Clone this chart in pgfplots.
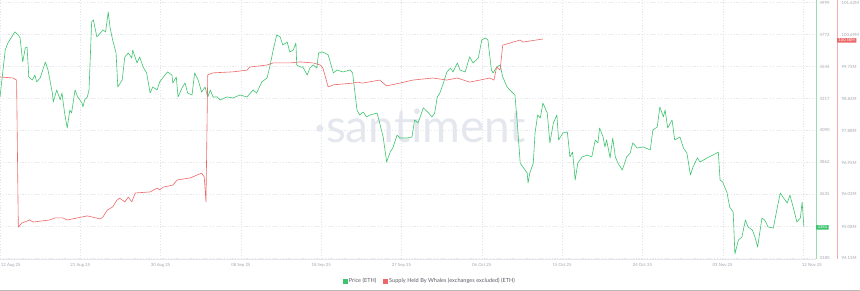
\documentclass[border=0pt]{standalone}
\usepackage{pgfplots}
\pgfplotsset{compat=1.18}
\usepackage{fontspec}
\setmainfont{Lato}
\definecolor{pricegreen}{RGB}{62,196,110}
\definecolor{whalered}{RGB}{236,104,104}
\definecolor{ticktext}{RGB}{160,164,172}
\definecolor{gridc}{RGB}{228,230,235}
\definecolor{wm}{RGB}{228,231,238}
\definecolor{legtext}{RGB}{90,94,102}
\begin{document}
\begin{tikzpicture}[x=1pt,y=1pt]
\path[use as bounding box] (0,0) rectangle (860,-291);
\begin{axis}[
  at={(0,0)}, anchor=north west,
  scale only axis, width=816pt, height=259pt,
  xmin=0, xmax=93.49, ymin=3175, ymax=5018,
  clip=false,
  axis x line*=bottom, axis y line*=right,
  x axis line style={gridc, line width=0.5pt, -},
  y axis line style={pricegreen!55, line width=0.6pt, -},
  major tick length=0pt,
  xtick={0,9.2,18.4,27.6,36.8,46,55.2,64.4,73.6,82.8,92},
  xticklabels={\makebox[0pt][l]{\hspace*{1pt}12 Aug 25},21 Aug 25,30 Aug 25,08 Sep 25,18 Sep 25,27 Sep 25,06 Oct 25,15 Oct 25,24 Oct 25,03 Nov 25,\makebox[0pt][l]{\hspace*{-1pt}12 Nov 25}},
  xticklabel style={font=\fontsize{4.3}{5}\selectfont, text=ticktext, yshift=-1pt},
  ytick={3180,3407,3635,3862,4090,4317,4544,4772,4999},
  yticklabels={3180,,3635,3862,4090,4317,4544,4772,4999},
  yticklabel style={font=\fontsize{4.3}{5}\selectfont, text=ticktext, anchor=west, xshift=0pt},
  grid=major,
  major grid style={gridc, dash pattern=on 1.2pt off 1.6pt, line width=0.4pt},
  legend style={at={(0.527,-0.085)}, anchor=center, draw=none, fill=none,
    font=\fontsize{5.6}{6}\selectfont, text=legtext, legend columns=2,
    /tikz/every even column/.append style={column sep=5pt}},
  legend image code/.code={\fill[#1] (0pt,-1.7pt) rectangle (3.4pt,1.7pt);},
]
\node[font=\fontsize{46}{46}\selectfont, text=wm] at (rel axis cs:0.515,0.515) {·santiment};
\addplot[pricegreen, line width=0.6pt, line join=round, forget plot] coordinates {
(0,4328)(0.6,4662)(0.9,4712)(1.7,4791)(2.1,4769)(2.3,4748)(2.6,4577)(2.9,4677)(3.1,4684)(3.3,4470)
(3.7,4449)(4.0,4484)(4.2,4435)(4.6,4463)(5.2,4577)(5.5,4520)(6.0,4356)(6.1,4292)(6.5,4378)(6.9,4307)
(7.1,4356)(7.4,4214)(7.7,4107)(8.0,4235)(8.2,4214)(8.6,4378)(8.9,4328)(9.4,4285)(9.5,4257)(9.7,4307)
(10.0,4328)(10.2,4378)(10.5,4862)(10.7,4876)(11.1,4755)(11.5,4783)(11.8,4805)(12.1,4791)(12.4,4933)(12.6,4826)
(12.9,4734)(13.3,4641)(13.5,4399)(14.0,4449)(14.3,4613)(14.7,4641)(15.1,4605)(15.2,4662)(15.7,4570)(16.0,4613)
(16.4,4541)(16.8,4499)(17.2,4356)(17.5,4399)(18.0,4378)(18.3,4435)(18.9,4484)(19.2,4506)(19.7,4484)(19.8,4428)
(20.2,4470)(20.4,4328)(20.9,4399)(21.2,4428)(21.5,4356)(22.0,4342)(22.3,4499)(22.7,4449)(23.1,4363)(23.5,4399)
(23.8,4328)(24.1,4378)(24.4,4328)(24.9,4328)(25.2,4307)(26.0,4328)(26.7,4321)(27.5,4342)(28.3,4328)(29.0,4378)
(29.4,4356)(30.0,4435)(30.6,4463)(30.9,4541)(31.3,4662)(31.7,4769)(32.1,4755)(32.4,4698)(32.9,4719)(33.2,4648)
(33.6,4662)(33.9,4712)(34.0,4556)(34.4,4541)(34.7,4541)(35.2,4484)(35.5,4534)(35.9,4556)(36.3,4534)(36.5,4641)
(36.9,4648)(37.2,4641)(37.6,4627)(38.0,4541)(38.2,4499)(38.6,4520)(39.3,4506)(40.1,4520)(40.4,4499)(40.9,4235)
(41.2,4200)(41.6,4221)(42.0,4186)(42.4,4200)(43.2,4214)(43.5,4143)(43.9,4043)(44.3,3865)(44.7,3936)(45.0,3965)
(45.5,4057)(45.8,4036)(46.6,4036)(47.2,4043)(47.5,4164)(47.9,4143)(48.5,4250)(49.0,4221)(49.5,4186)(49.8,4214)
(50.1,4328)(50.4,4356)(50.8,4428)(51.2,4506)(51.6,4534)(51.9,4506)(52.4,4570)(52.7,4520)(53.3,4506)(53.8,4613)
(54.2,4570)(54.8,4605)(55.2,4734)(55.6,4748)(55.9,4734)(56.3,4520)(56.5,4499)(56.9,4541)(57.3,4556)(57.6,4470)
(58.1,4399)(58.4,4378)(59.0,4342)(59.3,4114)(59.6,3858)(59.9,3830)(60.4,3787)(60.5,3716)(60.7,3787)(61.1,3858)
(61.3,4072)(61.6,4200)(61.9,4178)(62.2,4285)(62.7,4214)(63.0,4001)(63.4,4143)(63.8,4200)(64.0,4022)(64.5,4072)
(65.0,4079)(65.3,3901)(65.6,3936)(65.9,3737)(66.2,3858)(66.7,3901)(67.3,3915)(67.8,3901)(68.2,4022)(68.5,4001)
(68.7,4107)(69.1,4043)(69.3,3972)(69.5,4022)(69.9,3894)(70.2,4036)(70.5,3901)(70.8,3858)(71.3,3808)(71.8,3901)
(72.2,3929)(72.5,4001)(73.0,3965)(73.7,3972)(74.5,3951)(74.8,4093)(75.3,4114)(75.6,4257)(76.0,4186)(76.2,4235)
(76.5,4107)(77.0,4164)(77.3,4022)(77.9,4043)(78.3,3965)(78.7,3929)(79.1,3773)(79.4,3830)(79.9,3894)(80.2,3865)
(81.0,3894)(81.7,3915)(82.3,3936)(82.5,3737)(82.8,3723)(83.3,3645)(83.6,3545)(84.0,3509)(84.2,3211)(84.6,3310)
(85.0,3331)(85.4,3453)(85.7,3403)(86.2,3381)(86.5,3331)(86.8,3260)(87.3,3467)(87.6,3453)(88.0,3403)(88.6,3395)
(89.0,3524)(89.4,3645)(89.7,3616)(90.2,3573)(90.5,3630)(90.9,3538)(91.3,3438)(91.7,3467)(91.9,3581)(92.1,3405)
};
\addlegendimage{pricegreen}
\addlegendentry{Price (ETH)}
\addlegendimage{whalered}
\addlegendentry{Supply Held By Whales (exchanges excluded) (ETH)}
\node[fill=pricegreen, text=white, font=\fontsize{4}{4.5}\selectfont, inner xsep=1.6pt, inner ysep=0.9pt, rounded corners=0.4pt, anchor=west]
  at (axis cs:93.49,3400) {3380};
\end{axis}
\begin{axis}[
  at={(0,0)}, anchor=north west,
  scale only axis, width=837pt, height=259pt,
  xmin=0, xmax=95.9, ymin=94.13, ymax=101.70,
  clip=false,
  axis x line=none, axis y line*=right,
  y axis line style={whalered!55, line width=0.6pt, -},
  major tick length=0pt,
  ytick={94.15,95.08,96.02,96.95,97.88,98.82,99.75,100.69,101.62},
  yticklabels={94.15M,95.08M,96.02M,96.95M,97.88M,98.82M,99.75M,100.69M,101.62M},
  yticklabel style={font=\fontsize{4.3}{5}\selectfont, text=ticktext, anchor=west, xshift=1pt},
]
\addplot[whalered, line width=0.6pt, line join=round] coordinates {
(0,99.45)(1.5,99.42)(1.9,99.36)(2.1,95.06)(2.5,95.18)(3.4,95.27)(3.8,95.21)(5.7,95.27)(6.3,95.33)(7.2,95.33)
(7.7,95.27)(10.0,95.39)(11.5,95.30)(11.8,95.36)(12.3,95.56)(12.9,95.65)(13.4,95.85)(13.7,95.91)(14.3,95.80)(14.7,95.94)
(15.1,95.80)(15.5,96.06)(17.2,96.09)(18.0,96.20)(18.3,96.15)(18.7,96.23)(19.8,96.29)(20.3,96.44)(21.8,96.50)(23.1,96.64)
(23.4,96.53)(23.6,95.80)(23.8,99.51)(24.4,99.57)(26.7,99.60)(28.3,99.65)(28.6,99.74)(30.6,99.80)(31.3,99.86)(33.2,99.86)
(34.4,99.89)(35.9,99.86)(36.7,99.80)(37.0,99.71)(37.6,99.16)(38.2,99.22)(40.4,99.27)(41.0,99.30)(41.5,99.27)(43.5,99.36)
(44.3,99.19)(45.8,99.27)(47.3,99.36)(49.6,99.42)(51.2,99.36)(52.4,99.42)(53.8,99.30)(55.0,99.36)(56.1,99.42)(56.6,99.36)
(56.9,99.74)(57.3,99.65)(57.6,100.38)(59.6,100.53)(59.9,100.47)(62.2,100.56)
};
\node[fill=whalered, text=white, font=\fontsize{4}{4.5}\selectfont, inner xsep=1.4pt, inner ysep=0.9pt, rounded corners=0.4pt, anchor=west]
  at (axis cs:95.9,100.52) {100.58M};
\end{axis}
\draw[gray!55, line width=1pt] (0,-290.5) -- (860,-290.5);
\end{tikzpicture}
\end{document}
